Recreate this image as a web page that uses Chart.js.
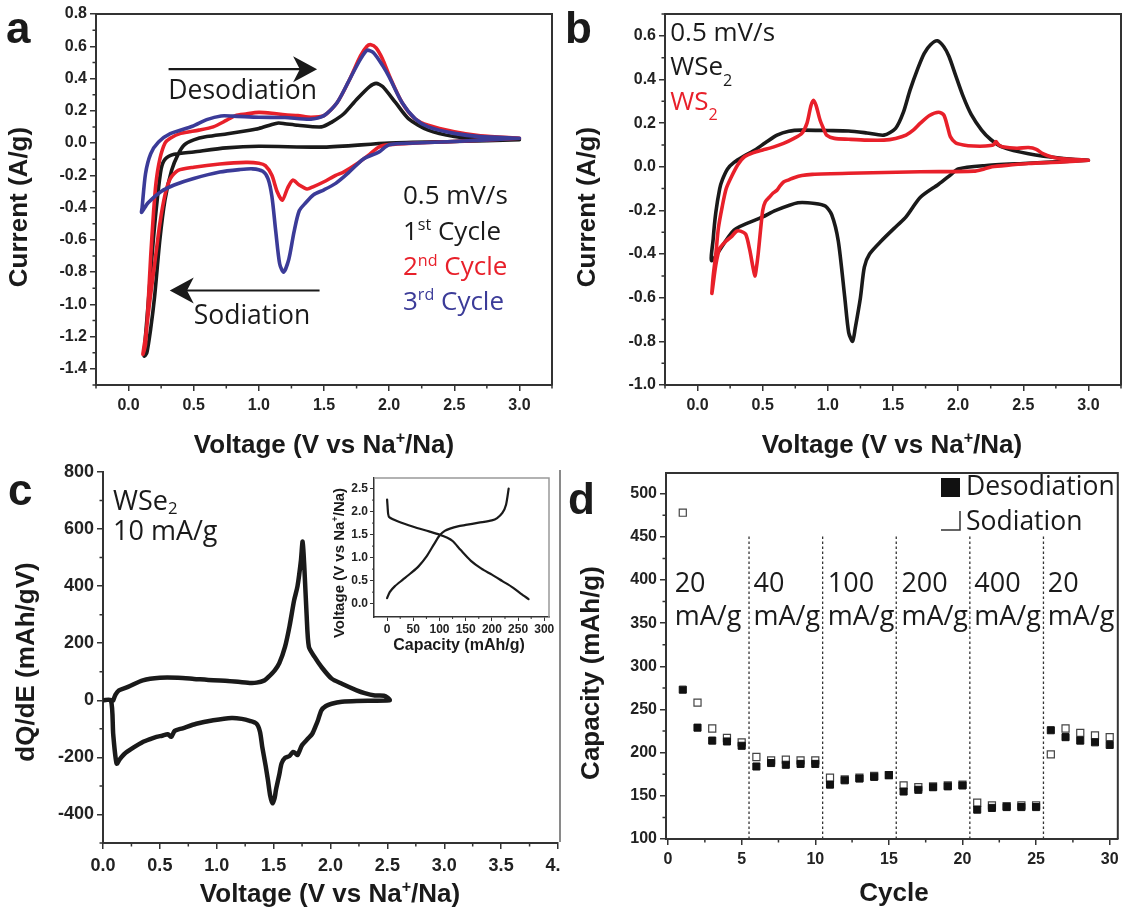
<!DOCTYPE html>
<html><head><meta charset="utf-8">
<script src="https://cdn.jsdelivr.net/npm/chart.js@4.4.1/dist/chart.umd.min.js"></script>
<style>
html,body{margin:0;padding:0;background:#fff;}
#wrap{position:relative;width:1124px;height:917px;overflow:hidden;background:#fff;}
canvas{position:absolute;}
#sep{position:absolute;left:559px;top:470px;width:2px;height:372px;background:#8a8a8a;}
</style></head><body>
<div id="wrap">
<canvas id="ca" width="560" height="460" style="left:0;top:0"></canvas>
<canvas id="cb" width="564" height="460" style="left:560px;top:0"></canvas>
<canvas id="cc" width="560" height="457" style="left:0;top:460px"></canvas>
<canvas id="cd" width="564" height="457" style="left:560px;top:460px"></canvas>
<canvas id="ci" width="240" height="192" style="left:320px;top:468px"></canvas>
<div id="sep"></div>
</div>
<script>
// ---------------- DATA ----------------
// Panel a: CV cycles (voltage V, current A/g)
const a_cycle1_V = [3.0,2.5,2.0,1.5,1.0,0.75,0.5,0.35,0.28,0.25,0.22,0.19,0.16,0.14,0.12,0.14,0.17,0.2,0.24,0.28,0.33,0.38,0.43,0.5,0.6,0.76,0.93,1.0,1.1,1.15,1.2,1.3,1.48,1.56,1.65,1.75,1.85,1.9,1.95,2.05,2.15,2.3,2.5,2.7,3.0];
const a_cycle1_I = [0.02,0.01,0.0,-0.025,-0.02,-0.03,-0.055,-0.07,-0.1,-0.16,-0.35,-0.6,-0.9,-1.1,-1.32,-1.3,-1.15,-0.95,-0.6,-0.35,-0.17,-0.07,-0.01,0.02,0.04,0.058,0.079,0.09,0.115,0.124,0.12,0.11,0.1,0.13,0.18,0.27,0.35,0.37,0.35,0.25,0.15,0.08,0.04,0.025,0.02];
const a_cycle2_V = [3.0,2.5,2.2,2.0,1.92,1.85,1.75,1.65,1.59,1.5,1.42,1.37,1.31,1.26,1.22,1.18,1.14,1.1,1.05,1.0,0.9,0.7,0.5,0.38,0.32,0.28,0.24,0.2,0.16,0.13,0.11,0.13,0.15,0.17,0.19,0.21,0.24,0.28,0.32,0.4,0.54,0.65,0.75,0.82,0.9,1.0,1.1,1.2,1.3,1.4,1.5,1.6,1.7,1.78,1.83,1.86,1.9,1.95,2.0,2.1,2.2,2.3,2.5,2.7,3.0];
const a_cycle2_I = [0.03,0.01,0.0,-0.01,-0.025,-0.07,-0.13,-0.18,-0.2,-0.24,-0.27,-0.285,-0.26,-0.23,-0.28,-0.355,-0.3,-0.2,-0.14,-0.125,-0.12,-0.13,-0.15,-0.17,-0.22,-0.32,-0.5,-0.75,-1.0,-1.2,-1.31,-1.25,-1.0,-0.7,-0.45,-0.25,-0.1,0.0,0.03,0.06,0.08,0.1,0.14,0.17,0.18,0.19,0.185,0.175,0.17,0.16,0.17,0.25,0.4,0.54,0.6,0.61,0.59,0.52,0.42,0.25,0.15,0.11,0.07,0.045,0.03];
const a_cycle3_V = [3.0,2.5,2.2,2.0,1.92,1.8,1.68,1.59,1.5,1.42,1.36,1.31,1.27,1.23,1.19,1.16,1.13,1.1,1.07,1.03,0.95,0.85,0.7,0.5,0.35,0.25,0.15,0.1,0.104,0.13,0.17,0.23,0.32,0.49,0.6,0.71,0.8,1.0,1.2,1.4,1.5,1.6,1.7,1.78,1.83,1.88,1.95,2.0,2.1,2.2,2.3,2.5,2.7,3.0];
const a_cycle3_I = [0.03,0.01,0.0,-0.01,-0.056,-0.1,-0.19,-0.25,-0.29,-0.32,-0.37,-0.42,-0.55,-0.72,-0.8,-0.75,-0.55,-0.33,-0.22,-0.175,-0.16,-0.165,-0.18,-0.22,-0.26,-0.3,-0.37,-0.43,-0.4,-0.19,-0.066,0.006,0.058,0.104,0.145,0.168,0.167,0.16,0.158,0.148,0.17,0.25,0.4,0.52,0.575,0.56,0.48,0.41,0.25,0.15,0.1,0.06,0.04,0.03];
const a_xTicks = [0.0,0.5,1.0,1.5,2.0,2.5,3.0];
const a_xMinor = [-0.25,0.25,0.75,1.25,1.75,2.25,2.75,3.25];
const a_yTicks = [0.8,0.6,0.4,0.2,0.0,-0.2,-0.4,-0.6,-0.8,-1.0,-1.2,-1.4];
const a_yMinor = [0.7,0.5,0.3,0.1,-0.1,-0.3,-0.5,-0.7,-0.9,-1.1,-1.3,-1.5];

// Panel b: WSe2 vs WS2 CV
const b_WSe2_V = [3.0,2.5,2.2,2.0,1.94,1.85,1.71,1.6,1.53,1.41,1.32,1.28,1.25,1.21,1.19,1.16,1.13,1.08,1.03,0.98,0.9,0.77,0.6,0.5,0.28,0.11,0.12,0.14,0.17,0.19,0.23,0.28,0.36,0.44,0.52,0.61,0.7,0.8,1.0,1.16,1.3,1.43,1.52,1.58,1.63,1.69,1.74,1.79,1.84,1.89,1.93,1.98,2.04,2.1,2.18,2.25,2.34,2.54,2.81,3.0];
const b_WSe2_I = [0.03,0.015,0.005,-0.01,-0.038,-0.08,-0.14,-0.23,-0.27,-0.34,-0.40,-0.46,-0.6,-0.74,-0.80,-0.76,-0.6,-0.34,-0.22,-0.18,-0.168,-0.165,-0.2,-0.23,-0.29,-0.43,-0.33,-0.21,-0.1,-0.06,-0.01,0.02,0.05,0.077,0.11,0.145,0.163,0.168,0.166,0.164,0.155,0.145,0.176,0.25,0.35,0.45,0.52,0.56,0.577,0.55,0.505,0.42,0.32,0.24,0.168,0.125,0.09,0.06,0.038,0.03];
const b_WS2_V = [3.0,2.8,2.54,2.4,2.26,2.2,2.12,1.71,1.16,0.88,0.8,0.74,0.7,0.66,0.63,0.61,0.58,0.55,0.52,0.5,0.48,0.465,0.45,0.44,0.425,0.4,0.37,0.33,0.3,0.26,0.22,0.17,0.14,0.11,0.12,0.14,0.16,0.19,0.22,0.26,0.31,0.36,0.43,0.5,0.58,0.66,0.74,0.8,0.84,0.87,0.89,0.91,0.94,0.97,0.99,1.05,1.16,1.3,1.43,1.52,1.6,1.66,1.71,1.78,1.85,1.89,1.92,1.94,1.98,2.04,2.12,2.21,2.27,2.29,2.31,2.34,2.45,2.54,2.6,2.65,2.72,2.81,3.0];
const b_WS2_I = [0.03,0.022,0.015,0.008,0.0,-0.01,-0.02,-0.023,-0.03,-0.035,-0.04,-0.05,-0.06,-0.07,-0.09,-0.107,-0.12,-0.14,-0.16,-0.2,-0.31,-0.4,-0.47,-0.5,-0.46,-0.38,-0.31,-0.295,-0.295,-0.32,-0.34,-0.375,-0.45,-0.58,-0.5,-0.4,-0.28,-0.18,-0.1,-0.046,0.01,0.046,0.065,0.077,0.09,0.107,0.13,0.153,0.2,0.28,0.305,0.28,0.214,0.17,0.145,0.13,0.126,0.122,0.122,0.13,0.145,0.17,0.2,0.235,0.25,0.237,0.18,0.138,0.11,0.1,0.095,0.095,0.1,0.115,0.1,0.092,0.085,0.088,0.08,0.06,0.045,0.036,0.03];
const b_xTicks = [0.0,0.5,1.0,1.5,2.0,2.5,3.0];
const b_xMinor = [-0.25,0.25,0.75,1.25,1.75,2.25,2.75,3.25];
const b_yTicks = [0.6,0.4,0.2,0.0,-0.2,-0.4,-0.6,-0.8,-1.0];
const b_yMinor = [0.7,0.5,0.3,0.1,-0.1,-0.3,-0.5,-0.7,-0.9];

// Panel c: dQ/dE vs voltage
const c_V = [0.0,0.07,0.09,0.12,0.15,0.19,0.27,0.35,0.42,0.47,0.52,0.57,0.6,0.63,0.7,0.82,0.97,1.13,1.22,1.29,1.35,1.38,1.4,1.43,1.45,1.47,1.49,1.51,1.52,1.55,1.57,1.6,1.64,1.67,1.69,1.71,1.73,1.75,1.8,1.84,1.87,1.89,1.92,1.96,2.01,2.1,2.23,2.52,2.5,2.47,2.39,2.3,2.23,2.1,2.01,1.92,1.86,1.81,1.79,1.77,1.755,1.74,1.71,1.68,1.64,1.6,1.55,1.51,1.45,1.42,1.35,1.29,1.1,0.97,0.8,0.66,0.5,0.35,0.22,0.14,0.11,0.09];
const c_Q = [0,0,-120,-222,-205,-187,-165,-146,-135,-128,-124,-119,-128,-107,-98,-82,-70,-62,-65,-72,-82,-110,-163,-230,-280,-335,-361,-340,-315,-260,-221,-202,-195,-181,-185,-192,-175,-157,-135,-117,-90,-70,-35,-20,-12,-5,-2,0,10,16,17,25,35,58,76,117,152,187,300,466,556,490,400,350,260,187,130,105,80,70,62,61,68,70,75,79,79,70,47,35,20,0];
const c_xTicks = [0.0,0.5,1.0,1.5,2.0,2.5,3.0,3.5,4.0];
const c_xMinor = [0.25,0.75,1.25,1.75,2.25,2.75,3.25,3.75];
const c_yTicks = [800,600,400,200,0,-200,-400];
const c_yMinor = [700,500,300,100,-100,-300,-500];

// Inset: voltage profile (capacity mAh/g, voltage V)
const inset_dis_cap = [0,1,2,4,20,50,80,100,115,125,140,160,180,200,220,240,255,270];
const inset_dis_V   = [2.26,2.1,1.95,1.88,1.79,1.67,1.57,1.5,1.43,1.36,1.17,0.93,0.76,0.63,0.49,0.35,0.22,0.1];
const inset_chg_cap = [0,5,15,30,45,60,75,90,100,110,120,135,150,175,200,210,220,227,232];
const inset_chg_V   = [0.12,0.25,0.38,0.52,0.66,0.81,1.02,1.3,1.48,1.58,1.63,1.68,1.71,1.76,1.81,1.86,1.97,2.15,2.5];
const inset_xTicks = [0,50,100,150,200,250,300];
const inset_xMinor = [25,75,125,175,225,275];
const inset_yTicks = [0.0,0.5,1.0,1.5,2.0,2.5];
const inset_yMinor = [0.25,0.75,1.25,1.75,2.25];

// Panel d: rate capability
const d_cycles = [1,2,3,4,5,6,7,8,9,10,11,12,13,14,15,16,17,18,19,20,21,22,23,24,25,26,27,28,29,30];
const d_desodiation = [273,229,214,213,208,184,188,186,187,187,163,168,170,172,174,155,157,160,161,162,134,136,137,137,137,226,218,214,212,209];
const d_sodiation   = [478,258,228,217,212,195,191,192,191,191,171,169,171,173,174,162,160,161,162,163,142,139,138,139,139,198,228,223,220,218];
const d_rateBoundaries = [5.5,10.5,15.5,20.5,25.5];
const d_rateLabels = ['20','40','100','200','400','20'];
const d_rateUnit = 'mA/g';
const d_rateLabelX = [0.45,5.8,10.85,15.85,20.8,25.8];
const d_xTicks = [0,5,10,15,20,25,30];
const d_xMinor = [2.5,7.5,12.5,17.5,22.5,27.5];
const d_yTicks = [100,150,200,250,300,350,400,450,500];
const d_yMinor = [125,175,225,275,325,375,425,475];

// ---------------- HELPERS ----------------
const AX_FONT = '"Liberation Sans", Arial, sans-serif';
const TX_FONT = '"Open Sans", "Noto Sans", sans-serif';
const BLACK = '#1a1a1a', RED = '#e8202a', BLUE = '#3b3b98', AXC = '#333';
const pts = (xs, ys) => xs.map((x, i) => ({x: x, y: ys[i]}));

function drawRich(ctx, segs, x, y, o) {
  ctx.save();
  ctx.translate(x, y);
  if (o.rot) ctx.rotate(o.rot);
  ctx.textBaseline = 'alphabetic';
  ctx.textAlign = 'left';
  const fam = o.family || TX_FONT, wt = o.weight || 'normal';
  let total = 0;
  const parts = segs.map(s => {
    if (typeof s === 'string') s = {t: s};
    const sz = (s.sup || s.sub) ? o.size * 0.62 : o.size;
    ctx.font = wt + ' ' + sz + 'px ' + fam;
    const w = ctx.measureText(s.t).width;
    total += w;
    return Object.assign({}, s, {sz: sz, w: w});
  });
  let cx = o.align === 'center' ? -total / 2 : (o.align === 'right' ? -total : 0);
  for (const p of parts) {
    ctx.font = wt + ' ' + p.sz + 'px ' + fam;
    ctx.fillStyle = p.color || o.color || BLACK;
    const dy = p.sup ? -o.size * 0.38 : (p.sub ? o.size * (o.subDrop || 0.2) : 0);
    ctx.fillText(p.t, cx, dy);
    cx += p.w;
  }
  ctx.restore();
}

function arrow(ctx, x1, y1, x2, y2, lw, headL, headW) {
  const ang = Math.atan2(y2 - y1, x2 - x1);
  ctx.save();
  ctx.strokeStyle = BLACK; ctx.fillStyle = BLACK; ctx.lineWidth = lw;
  ctx.beginPath(); ctx.moveTo(x1, y1);
  ctx.lineTo(x2 - Math.cos(ang) * headL * 0.7, y2 - Math.sin(ang) * headL * 0.7); ctx.stroke();
  ctx.translate(x2, y2); ctx.rotate(ang);
  ctx.beginPath(); ctx.moveTo(0, 0); ctx.lineTo(-headL, -headW / 2); ctx.lineTo(-headL * 0.72, 0);
  ctx.lineTo(-headL, headW / 2); ctx.closePath(); ctx.fill();
  ctx.restore();
}

function makeChart(id, cfg) {
  const cv = document.getElementById(id);
  const W = cv.width, H = cv.height, f = cfg.frame;
  const tickFont = {family: AX_FONT, size: cfg.tickSize || 16, weight: 'bold'};
  const axis = (ax) => ({
    type: 'linear', min: ax.min, max: ax.max,
    afterBuildTicks: s => { s.ticks = ax.ticks.map(v => ({value: v})); },
    ticks: {callback: ax.fmt, font: tickFont, color: '#222', padding: ax.pad, autoSkip: false, maxRotation: 0, minRotation: 0},
    grid: {display: true, drawOnChartArea: false, drawTicks: true, tickLength: cfg.majorLen || 6, color: AXC, lineWidth: cfg.tickW || 1.5},
    border: {display: true, color: AXC, width: cfg.axisW || 2}
  });
  const xs = axis(cfg.x), ys = axis(cfg.y);
  xs.position = 'bottom';
  ys.position = 'left';
  xs.afterFit = s => { s.height = H - f.b; s.paddingLeft = 0; s.paddingRight = 0; };
  ys.afterFit = s => { s.width = f.l; s.paddingTop = 0; s.paddingBottom = 0; };
  const plugin = {
    id: 'decor_' + id,
    afterDraw(chart) {
      const ctx = chart.ctx, ca = chart.chartArea;
      const sx = chart.scales.x, sy = chart.scales.y;
      ctx.save();
      ctx.strokeStyle = AXC; ctx.lineWidth = cfg.tickW || 1.5;
      const ml = cfg.minorLen || 3.5;
      ctx.beginPath();
      cfg.x.minor.forEach(v => { const p = sx.getPixelForValue(v); ctx.moveTo(p, ca.bottom); ctx.lineTo(p, ca.bottom + ml); });
      cfg.y.minor.forEach(v => { const p = sy.getPixelForValue(v); ctx.moveTo(ca.left, p); ctx.lineTo(ca.left - ml, p); });
      ctx.stroke();
      if (cfg.box) {
        ctx.strokeStyle = cfg.boxColor || AXC; ctx.lineWidth = cfg.axisW || 2;
        ctx.beginPath(); ctx.moveTo(ca.left, ca.top); ctx.lineTo(ca.right, ca.top); ctx.lineTo(ca.right, ca.bottom); ctx.stroke();
      }
      ctx.restore();
      if (cfg.decor) cfg.decor(ctx, chart, sx, sy);
    }
  };
  return new Chart(cv, {
    type: 'scatter',
    data: {datasets: cfg.datasets},
    options: {
      responsive: false, animation: false, events: [],
      devicePixelRatio: 1,
      layout: {padding: {left: 0, top: f.t, right: W - f.r, bottom: 0}},
      plugins: {legend: {display: false}, tooltip: {enabled: false}},
      scales: {x: xs, y: ys}
    },
    plugins: [plugin]
  });
}

const line = (data, color, w) => ({data: data, showLine: true, borderColor: color, borderWidth: w, pointRadius: 0, tension: 0.25, fill: false, borderCapStyle: 'round', borderJoinStyle: 'round'});
const f1 = v => Number(v).toFixed(1);
const f0 = v => String(Math.round(v));

// ---------------- PANEL A ----------------
makeChart('ca', {
  frame: {l: 96, t: 14, r: 552, b: 385}, box: true,
  x: {min: -0.25, max: 3.25, ticks: a_xTicks, minor: a_xMinor, fmt: f1, pad: 5},
  y: {min: -1.5, max: 0.8, ticks: a_yTicks, minor: a_yMinor, fmt: f1, pad: 3},
  datasets: [
    line(pts(a_cycle3_V, a_cycle3_I), BLUE, 3.6),
    line(pts(a_cycle2_V, a_cycle2_I), RED, 3.6),
    line(pts(a_cycle1_V, a_cycle1_I), BLACK, 3.6)
  ],
  decor: (ctx, ch, sx, sy) => {
    drawRich(ctx, ['a'], 6, 43, {size: 44, weight: 'bold', family: AX_FONT});
    drawRich(ctx, ['Current (A/g)'], 27, 207, {size: 26, weight: 'bold', family: AX_FONT, align: 'center', rot: -Math.PI / 2});
    drawRich(ctx, ['Voltage (V vs Na', {t: '+', sup: true}, '/Na)'], 324, 453, {size: 26, weight: 'bold', family: AX_FONT, align: 'center'});
    arrow(ctx, sx.getPixelForValue(0.307), sy.getPixelForValue(0.458), sx.getPixelForValue(1.447), sy.getPixelForValue(0.458), 2.2, 24, 26);
    drawRich(ctx, ['Desodiation'], sx.getPixelForValue(0.305), sy.getPixelForValue(0.27), {size: 26.5});
    arrow(ctx, sx.getPixelForValue(1.466), sy.getPixelForValue(-0.914), sx.getPixelForValue(0.316), sy.getPixelForValue(-0.914), 2.2, 24, 26);
    drawRich(ctx, ['Sodiation'], sx.getPixelForValue(0.5), sy.getPixelForValue(-1.121), {size: 26.5});
    const tx = sx.getPixelForValue(2.106);
    drawRich(ctx, ['0.5 mV/s'], tx, sy.getPixelForValue(-0.376), {size: 26});
    drawRich(ctx, ['1', {t: 'st', sup: true}, ' Cycle'], tx, sy.getPixelForValue(-0.599), {size: 26});
    drawRich(ctx, ['2', {t: 'nd', sup: true}, ' Cycle'], tx, sy.getPixelForValue(-0.821), {size: 26, color: RED});
    drawRich(ctx, ['3', {t: 'rd', sup: true}, ' Cycle'], tx, sy.getPixelForValue(-1.034), {size: 26, color: BLUE});
  }
});

// ---------------- PANEL B ----------------
makeChart('cb', {
  frame: {l: 105, t: 14, r: 561, b: 385}, box: true,
  x: {min: -0.25, max: 3.25, ticks: b_xTicks, minor: b_xMinor, fmt: f1, pad: 5},
  y: {min: -1.0, max: 0.7, ticks: b_yTicks, minor: b_yMinor, fmt: f1, pad: 3},
  datasets: [
    line(pts(b_WS2_V, b_WS2_I), RED, 3.6),
    line(pts(b_WSe2_V, b_WSe2_I), BLACK, 3.6)
  ],
  decor: (ctx, ch, sx, sy) => {
    drawRich(ctx, ['b'], 5, 43, {size: 44, weight: 'bold', family: AX_FONT});
    drawRich(ctx, ['Current (A/g)'], 35, 207, {size: 26, weight: 'bold', family: AX_FONT, align: 'center', rot: -Math.PI / 2});
    drawRich(ctx, ['Voltage (V vs Na', {t: '+', sup: true}, '/Na)'], 332, 453, {size: 26, weight: 'bold', family: AX_FONT, align: 'center'});
    const tx = sx.getPixelForValue(-0.21);
    drawRich(ctx, ['0.5 mV/s'], tx, sy.getPixelForValue(0.578), {size: 26});
    drawRich(ctx, ['WSe', {t: '2', sub: true}], tx, sy.getPixelForValue(0.42), {size: 26, subDrop: 0.4});
    drawRich(ctx, ['WS', {t: '2', sub: true}], tx, sy.getPixelForValue(0.26), {size: 26, subDrop: 0.4, color: RED});
  }
});

// ---------------- PANEL C ----------------
makeChart('cc', {
  frame: {l: 103, t: 12, r: 558, b: 383}, box: false, tickSize: 18,
  x: {min: 0, max: 4.0, ticks: c_xTicks, minor: c_xMinor, fmt: f1, pad: 6},
  y: {min: -500, max: 800, ticks: c_yTicks, minor: c_yMinor, fmt: f0, pad: 3},
  datasets: [ line(pts(c_V, c_Q), BLACK, 4.5) ],
  decor: (ctx, ch, sx, sy) => {
    drawRich(ctx, ['c'], 8, 45, {size: 44, weight: 'bold', family: AX_FONT});
    drawRich(ctx, ['dQ/dE (mAh/gV)'], 34, 202, {size: 26, weight: 'bold', family: AX_FONT, align: 'center', rot: -Math.PI / 2});
    drawRich(ctx, ['Voltage (V vs Na', {t: '+', sup: true}, '/Na)'], 330, 442, {size: 26, weight: 'bold', family: AX_FONT, align: 'center'});
    const tx = sx.getPixelForValue(0.088);
    drawRich(ctx, ['WSe', {t: '2', sub: true}], tx, sy.getPixelForValue(666), {size: 27, subDrop: 0.15});
    drawRich(ctx, ['10 mA/g'], tx, sy.getPixelForValue(563), {size: 27});
  }
});

// ---------------- INSET ----------------
makeChart('ci', {
  frame: {l: 54, t: 10, r: 229, b: 149}, box: true, boxColor: '#999',
  tickSize: 12, majorLen: 4, minorLen: 2, tickW: 1, axisW: 1.5,
  x: {min: -25, max: 309, ticks: inset_xTicks, minor: inset_xMinor, fmt: f0, pad: 1},
  y: {min: -0.29, max: 2.73, ticks: inset_yTicks, minor: inset_yMinor, fmt: f1, pad: 2},
  datasets: [
    line(pts(inset_dis_cap, inset_dis_V), BLACK, 2.2),
    line(pts(inset_chg_cap, inset_chg_V), BLACK, 2.2)
  ],
  decor: (ctx, ch, sx, sy) => {
    drawRich(ctx, ['Voltage (V vs Na', {t: '+', sup: true}, '/Na)'], 24, 95, {size: 15, weight: 'bold', family: AX_FONT, align: 'center', rot: -Math.PI / 2});
    drawRich(ctx, ['Capacity (mAh/g)'], 139, 182, {size: 16, weight: 'bold', family: AX_FONT, align: 'center'});
  }
});

// ---------------- PANEL D ----------------
const dividerSets = d_rateBoundaries.map(b => ({data: [{x: b, y: 100}, {x: b, y: 453}], showLine: true, borderColor: '#333', borderWidth: 1.3, borderDash: [2.5, 2.5], pointRadius: 0, fill: false}));
makeChart('cd', {
  frame: {l: 106, t: 13, r: 562, b: 379}, box: true,
  x: {min: -0.14, max: 30.55, ticks: d_xTicks, minor: d_xMinor, fmt: f0, pad: 5},
  y: {min: 100, max: 524, ticks: d_yTicks, minor: d_yMinor, fmt: f0, pad: 3},
  datasets: [
    {data: pts(d_cycles, d_desodiation), showLine: false, pointStyle: 'rect', pointRadius: 5, backgroundColor: '#111', borderColor: '#111', borderWidth: 1},
    {data: pts(d_cycles, d_sodiation), showLine: false, pointStyle: 'rect', pointRadius: 5, backgroundColor: '#fff', borderColor: '#444', borderWidth: 1.2}
  ].concat(dividerSets),
  decor: (ctx, ch, sx, sy) => {
    drawRich(ctx, ['d'], 8, 54, {size: 44, weight: 'bold', family: AX_FONT});
    drawRich(ctx, ['Capacity (mAh/g)'], 39, 213, {size: 26, weight: 'bold', family: AX_FONT, align: 'center', rot: -Math.PI / 2});
    drawRich(ctx, ['Cycle'], 334, 441, {size: 26, weight: 'bold', family: AX_FONT, align: 'center'});
    d_rateLabels.forEach((lab, i) => {
      const x = sx.getPixelForValue(d_rateLabelX[i]);
      drawRich(ctx, [lab], x, sy.getPixelForValue(386), {size: 27});
      drawRich(ctx, [d_rateUnit], x, sy.getPixelForValue(348), {size: 27});
    });
    // legend
    ctx.save();
    ctx.fillStyle = '#111';
    ctx.fillRect(381, 18, 19, 19);
    ctx.strokeStyle = '#333'; ctx.lineWidth = 1.5;
    ctx.beginPath(); ctx.moveTo(400, 51); ctx.lineTo(400, 70); ctx.lineTo(381, 70); ctx.stroke();
    ctx.restore();
    drawRich(ctx, ['Desodiation'], 406, 35, {size: 26.5});
    drawRich(ctx, ['Sodiation'], 406, 70, {size: 26.5});
  }
});
</script>
</body></html>
